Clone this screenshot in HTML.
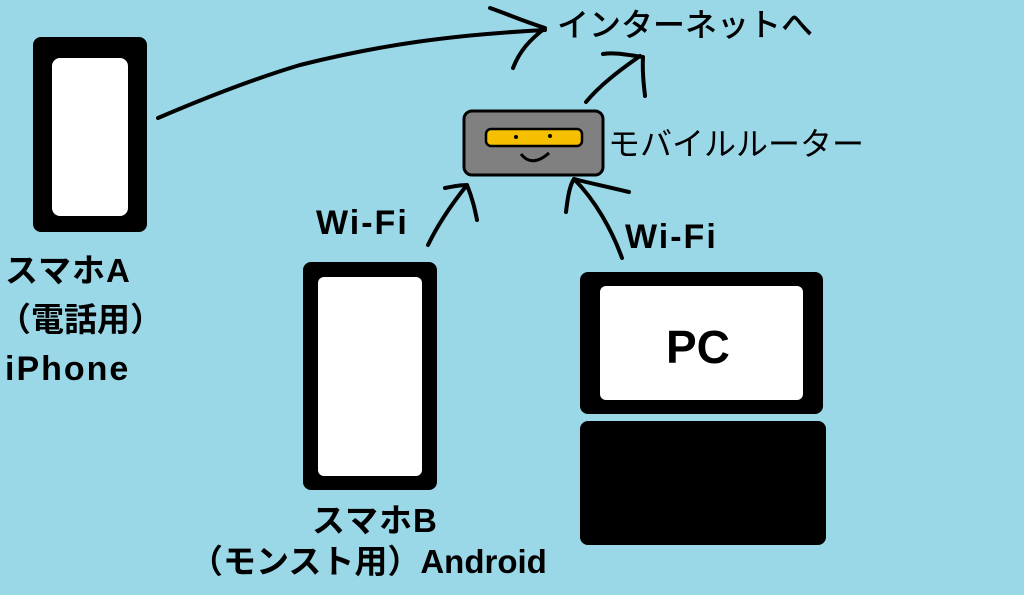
<!DOCTYPE html>
<html><head><meta charset="utf-8"><style>
body{margin:0;width:1024px;height:595px;background:#9ad8e8;position:relative;overflow:hidden;font-family:"Liberation Sans","Noto Sans CJK JP",sans-serif;}
.t{position:absolute;color:#000;white-space:nowrap;line-height:1;}
.b{font-weight:bold}
</style></head><body>
<svg width="1024" height="595" style="position:absolute;left:0;top:0">
<rect x="33" y="37" width="114" height="195" rx="8" fill="#000"/>
<rect x="52" y="58" width="76" height="158" rx="8" fill="#fff"/>
<rect x="303" y="262" width="134" height="228" rx="8" fill="#000"/>
<rect x="318" y="277" width="104" height="199" rx="6" fill="#fff"/>
<rect x="580" y="272" width="243" height="142" rx="8" fill="#000"/>
<rect x="600" y="286" width="203" height="114" rx="6" fill="#fff"/>
<rect x="580" y="421" width="246" height="124" rx="8" fill="#000"/>
<rect x="464" y="111" width="139" height="64" rx="8" fill="#808080" stroke="#000" stroke-width="3"/>
<rect x="486" y="129" width="96" height="17" rx="5" fill="#f5c000" stroke="#000" stroke-width="2.5"/>
<circle cx="516" cy="137" r="2" fill="#000"/><circle cx="550" cy="136" r="2" fill="#000"/>
<path d="M521 154 Q532 168 549 153" fill="none" stroke="#000" stroke-width="3"/>
<g fill="none" stroke="#000" stroke-width="4" stroke-linecap="round" stroke-linejoin="round">
<path d="M158 118 C200 100 250 80 300 65 C380 45 450 35 545 30"/>
<path d="M490 8 C510 15 520 20 545 28 C530 40 520 50 513 68"/>
<path d="M586 102 C600 85 620 70 640 56"/>
<path d="M603 54 C615 52 628 55 643 57 C642 75 644 85 645 96"/>
<path d="M428 245 C440 220 455 200 467 185"/>
<path d="M445 188 C455 186 462 185 467 185 C473 200 475 210 477 220"/>
<path d="M622 258 C612 230 595 200 574 179"/>
<path d="M566 212 C568 195 570 185 574 179 C585 182 600 185 629 192"/>
</g>
</svg>
<div class="t" style="left:557px;top:9px;font-size:32px;font-weight:500">インターネットへ</div>
<div class="t" style="left:608px;top:128px;font-size:32px">モバイルルーター</div>
<div class="t b" style="left:316px;top:206px;font-size:34px;letter-spacing:2px">Wi-Fi</div>
<div class="t b" style="left:625px;top:220px;font-size:34px;letter-spacing:2px">Wi-Fi</div>
<div class="t b" style="left:666px;top:324px;font-size:46px">PC</div>
<div class="t b" style="left:5px;top:254px;font-size:33px;letter-spacing:1px">スマホA</div>
<div class="t b" style="left:-2px;top:303px;font-size:33px">（電話用）</div>
<div class="t b" style="left:5px;top:352px;font-size:34px;letter-spacing:2px">iPhone</div>
<div class="t b" style="left:312px;top:504px;font-size:33px;letter-spacing:1px">スマホB</div>
<div class="t b" style="left:190px;top:545px;font-size:33px">（モンスト用）Android</div>
</body></html>
